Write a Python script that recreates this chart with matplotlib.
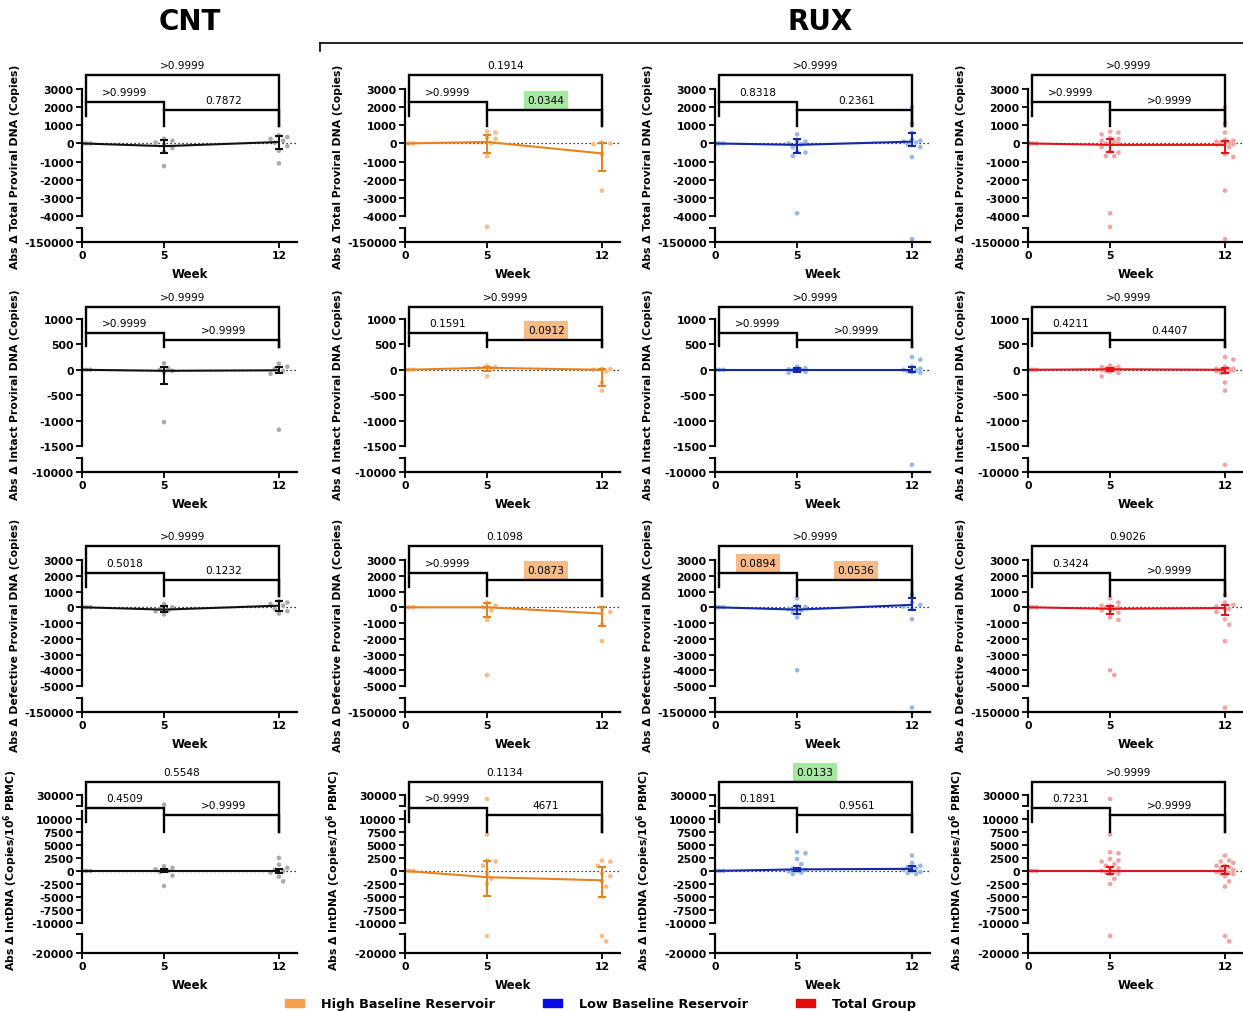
import numpy as np
import matplotlib
matplotlib.use('Agg')
import matplotlib.pyplot as plt
from matplotlib.lines import Line2D
from matplotlib.patches import Patch

plt.rcParams['font.family'] = ['DejaVu Sans']
plt.rcParams['font.weight'] = 'bold'
plt.rcParams['mathtext.fontset'] = 'dejavusans'

W, H = 1243, 1012

weeks = [0, 5, 12]
groups = ['CNT', 'High', 'Low', 'Total']
point_colors = ['#ababab', '#f7bd87', '#94b9e6', '#f4a3a3']
line_colors = ['#111111', '#e8821e', '#1428a8', '#e3141b']
legend_labels = ['High Baseline Reservoir', 'Low Baseline Reservoir', 'Total Group']
legend_colors = ['#f6a04d', '#0a0ae6', '#e60a0a']

y_labels = ['Abs Δ Total Proviral DNA (Copies)',
            'Abs Δ Intact Proviral DNA (Copies)',
            'Abs Δ Defective Proviral DNA (Copies)',
            r'Abs Δ IntDNA (Copies/10$^{\mathbf{6}}$ PBMC)']

# change from baseline per participant, weeks 0 / 5 / 12
total_cnt = [[0, 0, 0, 0, 0, 0, 0, 0],
             [250, 150, 50, -100, -250, -450, -1250],
             [450, 350, 250, 150, 50, -150, -400, -1100]]
total_high = [[0, 0, 0, 0, 0, 0, 0],
              [650, 600, 300, 250, 0, -700, -4600],
              [50, 0, -50, -600, -2600]]
total_low = [[0, 0, 0, 0, 0, 0, 0, 0, 0, 0, 0],
             [500, 150, 100, 0, -50, -200, -450, -500, -700, -3850],
             [2000, 1100, 600, 200, 150, 100, 50, -50, -200, -750, -148000]]
# summary line and error bar per group (CNT, High, Low, Total)
total_mid = [[0, -150, 80], [0, 80, -550], [0, -80, 100], [0, -80, -80]]
total_lo = [[0, -550, -300], [0, -550, -1500], [0, -500, -150], [0, -450, -550]]
total_hi = [[0, 200, 400], [0, 450, 0], [0, 250, 600], [0, 250, 150]]
total_p = [['>0.9999', '>0.9999', '0.7872'], ['0.1914', '>0.9999', '0.0344'],
           ['>0.9999', '0.8318', '0.2361'], ['>0.9999', '>0.9999', '>0.9999']]

intact_cnt = [[0, 0, 0, 0, 0, 0, 0, 0],
              [130, 30, 0, -20, -50, -1030],
              [120, 60, 20, -20, -80, -1180]]
intact_high = [[0, 0, 0, 0, 0, 0, 0],
               [80, 50, 30, 10, -130],
               [20, 10, 0, -30, -250, -410]]
intact_low = [[0, 0, 0, 0, 0, 0, 0, 0, 0, 0, 0],
              [60, 30, 10, 0, -10, -20, -40, -60],
              [250, 200, 60, 20, 0, -10, -30, -50, -60, -9500]]
intact_mid = [[0, -20, -10], [0, 40, 0], [0, 0, 0], [0, 10, 0]]
intact_lo = [[0, -280, -60], [0, -20, -310], [0, -40, -40], [0, -30, -60]]
intact_hi = [[0, 60, 60], [0, 60, 20], [0, 40, 60], [0, 40, 40]]
intact_p = [['>0.9999', '>0.9999', '>0.9999'], ['>0.9999', '0.1591', '0.0912'],
            ['>0.9999', '>0.9999', '>0.9999'], ['>0.9999', '0.4211', '0.4407']]

defective_cnt = [[0, 0, 0, 0, 0, 0, 0, 0],
                 [200, 0, -100, -200, -250, -450],
                 [400, 300, 200, 100, -100, -250, -400]]
defective_high = [[0, 0, 0, 0, 0, 0, 0],
                  [300, 100, 0, -200, -800, -4300],
                  [-100, -300, -1100, -2150]]
defective_low = [[0, 0, 0, 0, 0, 0, 0, 0, 0, 0, 0],
                 [570, 100, 0, -100, -200, -340, -650, -4000],
                 [800, 300, 150, 50, -100, -760, -147000]]
defective_mid = [[0, -150, 100], [0, 0, -400], [0, -150, 150], [0, -100, -50]]
defective_lo = [[0, -300, -250], [0, -600, -1200], [0, -440, -200], [0, -400, -500]]
defective_hi = [[0, 100, 400], [0, 300, 0], [0, 60, 600], [0, 100, 150]]
defective_p = [['>0.9999', '0.5018', '0.1232'], ['0.1098', '>0.9999', '0.0873'],
               ['>0.9999', '0.0894', '0.0536'], ['0.9026', '0.3424', '>0.9999']]

intdna_cnt = [[0, 0, 0, 0, 0, 0, 0, 0],
              [18000, 900, 600, 300, 0, -200, -900, -2900],
              [2500, 1200, 600, 200, 0, -300, -1100, -2000]]
intdna_high = [[0, 0, 0, 0, 0, 0, 0, 0, 0],
               [25000, 7000, 2000, 1800, 1000, -500, -1500, -2500, -12500],
               [2000, 1800, 1000, -500, -1000, -2000, -3000, -12500, -14500]]
intdna_low = [[0, 0, 0, 0, 0, 0, 0, 0, 0, 0],
              [3600, 3400, 2300, 1300, 500, 200, 0, -100, -300, -580],
              [2950, 1540, 1000, 700, 500, 200, 0, -200, -400, -600]]
intdna_mid = [[0, 0, 0], [0, -1200, -1800], [0, 300, 400], [0, 0, 0]]
intdna_lo = [[0, -300, -400], [0, -4800, -5000], [0, -100, 0], [0, -500, -500]]
intdna_hi = [[0, 400, 300], [0, 2000, 800], [0, 600, 1000], [0, 800, 900]]
intdna_p = [['0.5548', '0.4509', '>0.9999'], ['0.1134', '>0.9999', '4671'],
            ['0.0133', '0.1891', '0.9561'], ['>0.9999', '0.7231', '>0.9999']]

# broken y axes: data value -> pixel height above the x axis
rows = [
    dict(label=y_labels[0], pts=(total_cnt, total_high, total_low),
         mid=total_mid, lo=total_lo, hi=total_hi, p=total_p,
         knots=([-150000, -140000, -4606, 3000], [0, 14.5, 15, 153]),
         ticks=[-150000, -4000, -3000, -2000, -1000, 0, 1000, 2000, 3000],
         segs=[(-150000, -140000), (-4000, 3000)],
         br=(3772, 1512, 961, 2283, 1843), bottom=243, height=173, ylab_y=0.44),
    dict(label=y_labels[1], pts=(intact_cnt, intact_high, intact_low),
         mid=intact_mid, lo=intact_lo, hi=intact_hi, p=intact_p,
         knots=([-10000, -9000, -1717, 1000], [0, 14.5, 15, 153]),
         ticks=[-10000, -1500, -1000, -500, 0, 500, 1000],
         segs=[(-10000, -9000), (-1500, 1000)],
         br=(1236, 468, 449, 724, 586), bottom=473, height=173, ylab_y=0.45),
    dict(label=y_labels[2], pts=(defective_cnt, defective_high, defective_low),
         mid=defective_mid, lo=defective_lo, hi=defective_hi, p=defective_p,
         knots=([-150000, -140000, -5698, 3000], [0, 14.5, 15, 152]),
         ticks=[-150000, -5000, -4000, -3000, -2000, -1000, 0, 1000, 2000, 3000],
         segs=[(-150000, -140000), (-5000, 3000)],
         br=(3889, 1286, 714, 2175, 1730), bottom=713, height=173, ylab_y=0.45),
    dict(label=y_labels[3], pts=(intdna_cnt, intdna_high, intdna_low),
         mid=intdna_mid, lo=intdna_lo, hi=intdna_hi, p=intdna_p,
         knots=([-20000, -12885, 11900, 15000, 30000], [0, 15, 144, 146, 158]),
         ticks=[-20000, -10000, -7500, -5000, -2500, 0, 2500, 5000, 7500, 10000, 30000],
         segs=[(-20000, -12100), (-10000, 11500), (16000, 30000)],
         br=(46250, 9423, 7500, 13450, 10770), bottom=954, height=179, ylab_y=0.47),
]

col_left = [82, 405, 715, 1028]
axes_w = 215
x_max = 13.1
px_week = 197 / 12.0


def piecewise(vals, pos):
    vals = np.asarray(vals, float)
    pos = np.asarray(pos, float)
    s_lo = (pos[1] - pos[0]) / (vals[1] - vals[0])
    s_hi = (pos[-1] - pos[-2]) / (vals[-1] - vals[-2])

    def fwd(y):
        y = np.asarray(y, float)
        out = np.interp(y, vals, pos)
        out = np.where(y > vals[-1], pos[-1] + (y - vals[-1]) * s_hi, out)
        return np.where(y < vals[0], pos[0] + (y - vals[0]) * s_lo, out)

    def inv(p):
        p = np.asarray(p, float)
        out = np.interp(p, pos, vals)
        out = np.where(p > pos[-1], vals[-1] + (p - pos[-1]) / s_hi, out)
        return np.where(p < pos[0], vals[0] + (p - pos[0]) / s_lo, out)

    return fwd, inv


def swarm_x(values, week, fwd, diam=6.0, limit=0.6):
    y = fwd(np.asarray(values, float))
    step = 0.7 * diam / px_week
    cands = [0.0]
    k = 1
    while k * step <= limit:
        cands += [k * step, -k * step]
        k += 1
    xs = np.zeros(len(y))
    placed = []
    for i in np.argsort(-y):
        best, best_d = 0.0, -1.0
        for off in cands:
            d = min((np.hypot((off - ox) * px_week, y[i] - oy) for ox, oy in placed),
                    default=1e9)
            if d >= diam:
                best = off
                break
            if d > best_d:
                best_d, best = d, off
        xs[i] = week + best
        placed.append((best, y[i]))
    return xs


def p_color(txt):
    try:
        v = float(txt)
    except ValueError:
        return None
    if v < 0.05:
        return '#a6e8a0'
    if v < 0.1:
        return '#f6bb86'
    return None


fig = plt.figure(figsize=(W / 100, H / 100), dpi=100)

for row in rows:
    fwd, inv = piecewise(*row['knots'])
    cnt, high, low = row['pts']
    total = [a + b for a, b in zip(high, low)]
    for c, pts in enumerate([cnt, high, low, total]):
        ax = fig.add_axes([col_left[c] / W, (H - row['bottom']) / H,
                           axes_w / W, row['height'] / H])
        ax.set_yscale('function', functions=(fwd, inv))
        ax.set_xlim(0, x_max)
        ax.set_ylim(float(inv(0.0)), float(inv(float(row['height']))))

        ax.axhline(0, color='black', lw=0.9, ls=(0, (1, 2.2)), zorder=1)
        for wk, vals in zip(weeks, pts):
            ax.scatter(swarm_x(vals, wk, fwd), vals, s=11, color=point_colors[c],
                       edgecolors='none', zorder=2)
        mid, lo, hi = row['mid'][c], row['lo'][c], row['hi'][c]
        ax.plot(weeks, mid, color=line_colors[c], lw=1.5, zorder=3)
        ax.errorbar(weeks[1:], mid[1:],
                    yerr=[np.subtract(mid[1:], lo[1:]), np.subtract(hi[1:], mid[1:])],
                    fmt='none', ecolor=line_colors[c], elinewidth=1.5,
                    capsize=3, capthick=1.5, zorder=3)

        # axis styling
        for s in ['top', 'right', 'left']:
            ax.spines[s].set_visible(False)
        ax.spines['bottom'].set_linewidth(1.6)
        ytrans = ax.get_yaxis_transform()
        for lo_s, hi_s in row['segs']:
            ax.plot([0, 0], [lo_s, hi_s], transform=ytrans, color='black', lw=1.6,
                    clip_on=False, solid_capstyle='projecting', zorder=4)
        ax.set_yticks(row['ticks'])
        ax.set_yticks([s[1] for s in row['segs'][:1]] +
                      [s[0] for s in row['segs'][2:]], minor=True)
        ax.set_yticklabels([str(t) for t in row['ticks']])
        ax.set_xticks(weeks)
        ax.tick_params(which='both', direction='out', length=4, width=1.3,
                       labelsize=7.8, pad=2)
        ax.set_xlabel('Week', fontsize=8.5, fontweight='bold', labelpad=5)
        ax.set_ylabel(row['label'], fontsize=7.8, fontweight='bold')
        ax.yaxis.set_label_coords(-0.29, row['ylab_y'])

        # comparison brackets
        top, left_end, leg_end, y05, y512 = row['br']
        kw = dict(color='black', lw=1.7, clip_on=False, zorder=4,
                  solid_joinstyle='miter')
        ax.plot([0.25, 0.25, 12, 12], [left_end, top, top, leg_end], **kw)
        ax.plot([0.25, 5, 5], [y05, y05, leg_end], **kw)
        ax.plot([5, 12, 12], [y512, y512, leg_end], **kw)
        for txt, xc, yb in zip(row['p'][c], [6.1, 2.6, 8.6], [top, y05, y512]):
            fc = p_color(txt)
            bbox = dict(boxstyle='square,pad=0.35', fc=fc, ec='none') if fc else None
            ax.annotate(txt, xy=(xc, yb), xytext=(0, 3.5), textcoords='offset points',
                        ha='center', va='bottom', fontsize=7.6, fontweight='normal',
                        bbox=bbox, annotation_clip=False)

fig.text(190 / W, 1 - 22 / H, 'CNT', ha='center', va='center', fontsize=20,
         fontweight='bold')
fig.text(820 / W, 1 - 22 / H, 'RUX', ha='center', va='center', fontsize=20,
         fontweight='bold')
fig.add_artist(Line2D([320 / W, 1.0], [1 - 44 / H] * 2, color='black', lw=1.2))
fig.add_artist(Line2D([320 / W] * 2, [1 - 44 / H, 1 - 52 / H], color='black', lw=1.2))

handles = [Patch(color=col) for col in legend_colors]
fig.legend(handles, legend_labels, loc='center', bbox_to_anchor=(0.483, 1 - 1005 / H),
           ncol=3, frameon=False, columnspacing=3.7, handlelength=1.5,
           handleheight=0.55, handletextpad=1.3, prop={'weight': 'bold', 'size': 9.3})

fig.savefig('out.png', dpi=100)
